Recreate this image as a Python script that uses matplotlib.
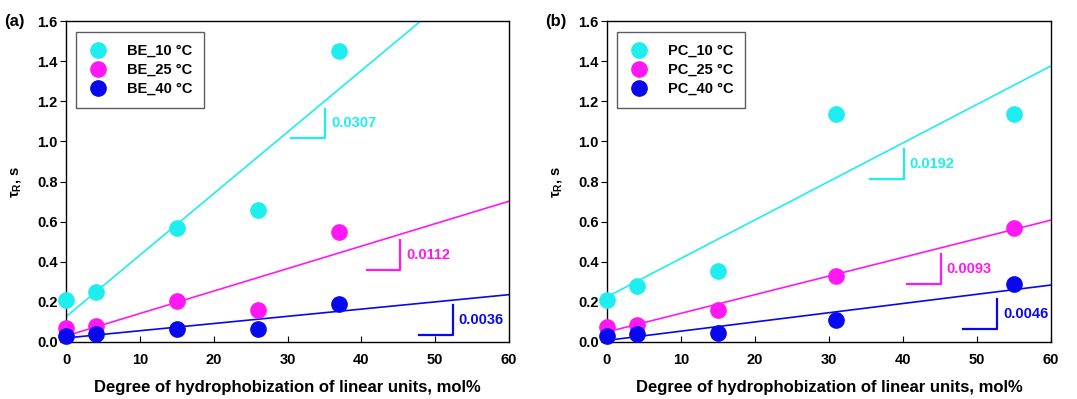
import matplotlib
matplotlib.use("Agg")
import numpy as np
import matplotlib.pyplot as plt

plt.rcParams['font.family'] = ['Liberation Sans', 'DejaVu Sans']
plt.rcParams['font.weight'] = 'bold'
plt.rcParams['mathtext.fontset'] = 'custom'
plt.rcParams['mathtext.rm'] = 'Liberation Sans:bold'
plt.rcParams['mathtext.it'] = 'Liberation Sans:bold'
plt.rcParams['mathtext.bf'] = 'Liberation Sans:bold'

# data, panel (a) BE
be_x = [0, 4, 15, 26, 37]
be_10 = [0.208, 0.249, 0.569, 0.660, 1.450]
be_25 = [0.070, 0.078, 0.203, 0.158, 0.549]
be_40 = [0.028, 0.042, 0.064, 0.067, 0.188]
be_slope = [0.0307, 0.0112, 0.0036]
be_icpt = [0.126, 0.030, 0.020]
be_labels = ["BE_10 °C", "BE_25 °C", "BE_40 °C"]

# panel (b) PC
pc_x = [0, 4, 15, 31, 55]
pc_10 = [0.208, 0.281, 0.353, 1.139, 1.139]
pc_25 = [0.073, 0.086, 0.158, 0.329, 0.569]
pc_40 = [0.028, 0.042, 0.047, 0.111, 0.289]
pc_slope = [0.0192, 0.0093, 0.0046]
pc_icpt = [0.225, 0.050, 0.008]
pc_labels = ["PC_10 °C", "PC_25 °C", "PC_40 °C"]

colors = ['#1eeef0', '#ff18f4', '#0808ee']

# slope marker corner (x of right edge, y of bottom) per series
be_marks = [(35.1, 1.018), (45.3, 0.361), (52.4, 0.037)]
pc_marks = [(40.1, 0.815), (45.1, 0.291), (52.7, 0.067)]

fig = plt.figure(figsize=(10.77, 3.99), dpi=100)
ax1 = fig.add_axes([0.0613, 0.1429, 0.4113, 0.804])
ax2 = fig.add_axes([0.5636, 0.1429, 0.4123, 0.804])


def panel(ax, x, ys, slopes, icpts, labels, marks, tag):
    xl = np.array([0, 60])
    for y, s, b, lab, c, (mx, my) in zip(ys, slopes, icpts, labels, colors, marks):
        ax.plot(xl, b + s * xl, color=c, lw=1.2, zorder=2)
        ax.plot(x, y, 'o', color=c, ms=11, label=lab, clip_on=False, zorder=4)
        ax.plot([mx - 4.6, mx, mx], [my, my, my + 0.146], color=c, lw=1.6)
        ax.text(mx + 0.8, my + 0.073, f"{s}", color=c, fontsize=10.5,
                fontweight='bold', va='center', ha='left')
    ax.set_xlim(0, 60)
    ax.set_ylim(0, 1.6)
    ax.set_xticks(range(0, 61, 10))
    ax.set_yticks(np.arange(0, 1.61, 0.2))
    ax.set_yticklabels([f"{v:.1f}" for v in np.arange(0, 1.61, 0.2)])
    ax.tick_params(axis='x', direction='in', length=4, labelsize=10.5, pad=8)
    ax.tick_params(axis='y', direction='out', length=4, labelsize=10.5, pad=2)
    for sp in ax.spines.values():
        sp.set_linewidth(1.0)
    ax.set_xlabel("Degree of hydrophobization of linear units, mol%",
                  fontsize=12, fontweight='bold', labelpad=9)
    ax.set_ylabel(r"$\tau_R$, s", fontsize=10.5, fontweight='bold', labelpad=10)
    leg = ax.legend(loc='upper left', bbox_to_anchor=(0.022, 0.966), fontsize=10.5,
                    frameon=True, fancybox=False, edgecolor='#333333',
                    borderpad=0.8, labelspacing=0.35, handletextpad=1.2,
                    handlelength=1.5, borderaxespad=0)
    leg.get_frame().set_linewidth(1.0)
    ax.text(-0.14, 1.0, tag, transform=ax.transAxes, fontsize=12,
            fontweight='bold', va='center', ha='left')


panel(ax1, be_x, [be_10, be_25, be_40], be_slope, be_icpt, be_labels, be_marks, "(a)")
panel(ax2, pc_x, [pc_10, pc_25, pc_40], pc_slope, pc_icpt, pc_labels, pc_marks, "(b)")

fig.savefig("out.png", dpi=100)
